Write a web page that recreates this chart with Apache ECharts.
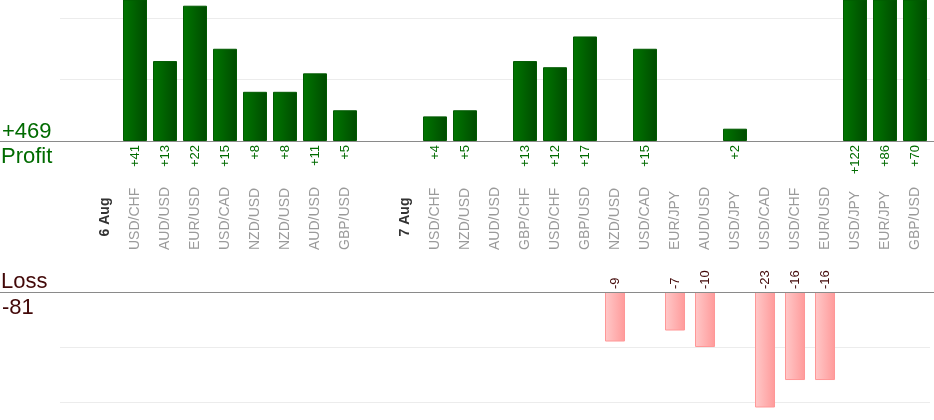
<!DOCTYPE html>
<html><head><meta charset="utf-8">
<script src="https://cdn.jsdelivr.net/npm/echarts@6/dist/echarts.min.js"></script>
<style>html,body{margin:0;padding:0;background:#fff}#c{width:934px;height:420px}</style>
</head><body><div id="c"></div>
<script>
const categories = ['', '6 Aug', 'USD/CHF', 'AUD/USD', 'EUR/USD', 'USD/CAD', 'NZD/USD', 'NZD/USD', 'AUD/USD', 'GBP/USD',
  '', '7 Aug', 'USD/CHF', 'NZD/USD', 'AUD/USD', 'GBP/CHF', 'USD/CHF', 'GBP/USD', 'NZD/USD', 'USD/CAD', 'EUR/JPY',
  'AUD/USD', 'USD/JPY', 'USD/CAD', 'USD/CHF', 'EUR/USD', 'USD/JPY', 'EUR/JPY', 'GBP/USD'];
const dateLabels = ['6 Aug', '7 Aug'];
const profit = [null, null, 41, 13, 22, 15, 8, 8, 11, 5,
  null, null, 4, 5, null, 13, 12, 17, null, 15, null,
  null, 2, null, null, null, 122, 86, 70];
const loss = [null, null, null, null, null, null, null, null, null, null,
  null, null, null, null, null, null, null, null, -9, null, -7,
  -10, null, -23, -16, -16, null, null, null];
const profitTicks = [0, 10, 20];
const lossTicks = [0, -10, -20];

const FONT = 'Liberation Sans, Arial, sans-serif';
const GREEN = '#006b00';
const MAROON = '#420808';
const totalProfit = profit.reduce((a, v) => a + (v || 0), 0);
const totalLoss = loss.reduce((a, v) => a + (v || 0), 0);

const chart = echarts.init(document.getElementById('c'), null, {renderer: 'canvas'});
const hiddenAxis = {axisLine: {show: false}, axisTick: {show: false}};
chart.setOption({
  animation: false,
  textStyle: {fontFamily: FONT},
  grid: [
    {left: 60, right: 4, top: 0, height: 141},
    {left: 60, right: 4, top: 292, height: 115}
  ],
  xAxis: [
    Object.assign({type: 'category', gridIndex: 0, position: 'bottom', data: categories,
      axisLabel: {interval: 0, rotate: 90, align: 'right', verticalAlign: 'middle', margin: 4,
        color: GREEN, fontSize: 13, fontFamily: FONT,
        formatter: (v, i) => profit[i] == null ? '' : '+' + profit[i]}}, hiddenAxis),
    Object.assign({type: 'category', gridIndex: 0, position: 'bottom', offset: 101, data: categories,
      axisLabel: {interval: 0, rotate: 90, align: 'left', verticalAlign: 'middle', margin: 8,
        color: '#9a9a9a', fontSize: 14, fontFamily: FONT,
        formatter: v => dateLabels.includes(v) ? '' : v}}, hiddenAxis),
    Object.assign({type: 'category', gridIndex: 0, position: 'bottom', offset: 68, data: categories,
      axisLabel: {interval: 0, rotate: 90, align: 'center', verticalAlign: 'middle', margin: 8,
        color: '#333', fontSize: 14, fontWeight: 'bold', fontFamily: FONT,
        formatter: v => dateLabels.includes(v) ? v : ''}}, hiddenAxis),
    Object.assign({type: 'category', gridIndex: 1, position: 'top', data: categories,
      axisLabel: {interval: 0, rotate: 90, align: 'left', verticalAlign: 'middle', margin: 3,
        color: MAROON, fontSize: 13, fontFamily: FONT,
        formatter: (v, i) => loss[i] == null ? '' : String(loss[i])}}, hiddenAxis)
  ],
  yAxis: [
    Object.assign({type: 'value', gridIndex: 0, min: profitTicks[0], max: 22.93, interval: profitTicks[1] - profitTicks[0],
      axisLabel: {show: false},
      splitLine: {show: true, showMinLine: false, showMaxLine: false, lineStyle: {color: '#ececec'}}}, hiddenAxis),
    Object.assign({type: 'value', gridIndex: 1, inverse: true, min: -lossTicks[0], max: 20.9, interval: lossTicks[0] - lossTicks[1],
      axisLabel: {show: false},
      splitLine: {show: true, showMinLine: false, showMaxLine: false, lineStyle: {color: '#ececec'}}}, hiddenAxis)
  ],
  series: [
    {type: 'bar', xAxisIndex: 0, yAxisIndex: 0, data: profit, barWidth: 24, clip: true,
      itemStyle: {borderColor: '#005a00', borderWidth: 1,
        color: new echarts.graphic.LinearGradient(0, 0, 1, 0, [
          {offset: 0, color: '#007600'}, {offset: 1, color: '#004a00'}])}},
    {type: 'bar', xAxisIndex: 3, yAxisIndex: 1, data: loss.map(v => v == null ? null : -v), barWidth: 20, clip: true,
      itemStyle: {borderColor: '#ff9797', borderWidth: 1,
        color: new echarts.graphic.LinearGradient(0, 0, 1, 0, [
          {offset: 0, color: '#ffc9c9'}, {offset: 1, color: '#ff9a9a'}])}}
  ],
  graphic: [
    {type: 'line', z: 100, shape: {x1: 0, y1: 141.5, x2: 934, y2: 141.5}, style: {stroke: '#8a8a8a', lineWidth: 1}},
    {type: 'line', z: 100, shape: {x1: 0, y1: 292.5, x2: 934, y2: 292.5}, style: {stroke: '#8a8a8a', lineWidth: 1}},
    {type: 'text', z: 100, x: 2, y: 121, style: {text: '+' + totalProfit, font: '22px ' + FONT, fill: GREEN, verticalAlign: 'top'}},
    {type: 'text', z: 100, x: 1, y: 146, style: {text: 'Profit', font: '22px ' + FONT, fill: GREEN, verticalAlign: 'top'}},
    {type: 'text', z: 100, x: 1, y: 271, style: {text: 'Loss', font: '22px ' + FONT, fill: MAROON, verticalAlign: 'top'}},
    {type: 'text', z: 100, x: 2, y: 297, style: {text: String(totalLoss), font: '22px ' + FONT, fill: MAROON, verticalAlign: 'top'}}
  ]
});
</script></body></html>
